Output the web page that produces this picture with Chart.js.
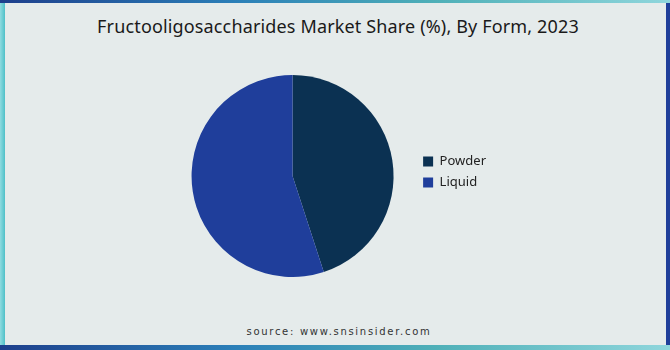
<!DOCTYPE html>
<html>
<head>
<meta charset="utf-8">
<script src="https://cdn.jsdelivr.net/npm/chart.js@4"></script>
<style>
  html, body { margin: 0; padding: 0; }
  body {
    width: 670px; height: 350px; position: relative; overflow: hidden;
    background: linear-gradient(90deg, #1d3f8c 0%, #2b7fb8 35%, #4fb0b8 65%, #8fd6dc 100%);
  }
  #panel {
    position: absolute; left: 5px; top: 3px; right: 4px; bottom: 5px;
    background: #e5ebeb;
  }
  #leftEdge { position: absolute; left: 0; top: 3px; width: 5px; bottom: 5px; background: linear-gradient(90deg, #8fdbe0, #4fc0c8); }
  #rightEdge { position: absolute; right: 0; top: 3px; width: 4px; bottom: 5px; background: #1f3f9a; }
  #title {
    position: absolute; left: 3px; width: 670px; top: 14px; text-align: center;
    font-family: "Noto Sans", sans-serif; font-size: 18px; letter-spacing: 0.15px; color: #1a1a1a;
  }
  #source {
    position: absolute; left: 4px; width: 670px; top: 326px; text-align: center;
    font-family: "DejaVu Sans", sans-serif; font-size: 10px; letter-spacing: 1.7px; color: #333;
  }
  #wrap { position: absolute; left: 170px; top: 75px; width: 326px; height: 202px; }
</style>
</head>
<body>
<div id="leftEdge"></div>
<div id="rightEdge"></div>
<div id="panel"></div>
<div id="title">Fructooligosaccharides Market Share (%), By Form, 2023</div>
<div id="source">source: www.snsinsider.com</div>
<div id="wrap"><canvas id="pieChart"></canvas></div>
<script>
const forms = ["Powder", "Liquid"];
const shares = [45, 55];
const colors = ["#0b3152", "#1f3e9b"];

const pieData = {
  labels: forms,
  datasets: [
    {
      data: shares,
      backgroundColor: colors,
      borderWidth: 0,
    },
  ],
};

// legend sits a little above the pie's middle in the original
const legendNudge = {
  id: "legendNudge",
  afterLayout(chart) {
    chart.legend.top -= 4;
    chart.legend.bottom -= 4;
  },
};

const config = {
  type: "pie",
  data: pieData,
  plugins: [legendNudge],
  options: {
    responsive: true,
    maintainAspectRatio: false,
    animation: false,
    layout: { padding: 0 },
    plugins: {
      legend: {
        position: "right",
        align: "center",
        labels: {
          boxWidth: 10,
          boxHeight: 10,
          padding: 8,
          color: "#222",
          font: { family: "Noto Sans", size: 13 },
        },
      },
      tooltip: { enabled: false },
    },
  },
};

var pieChart = new Chart(document.getElementById("pieChart"), config);
</script>
</body>
</html>
